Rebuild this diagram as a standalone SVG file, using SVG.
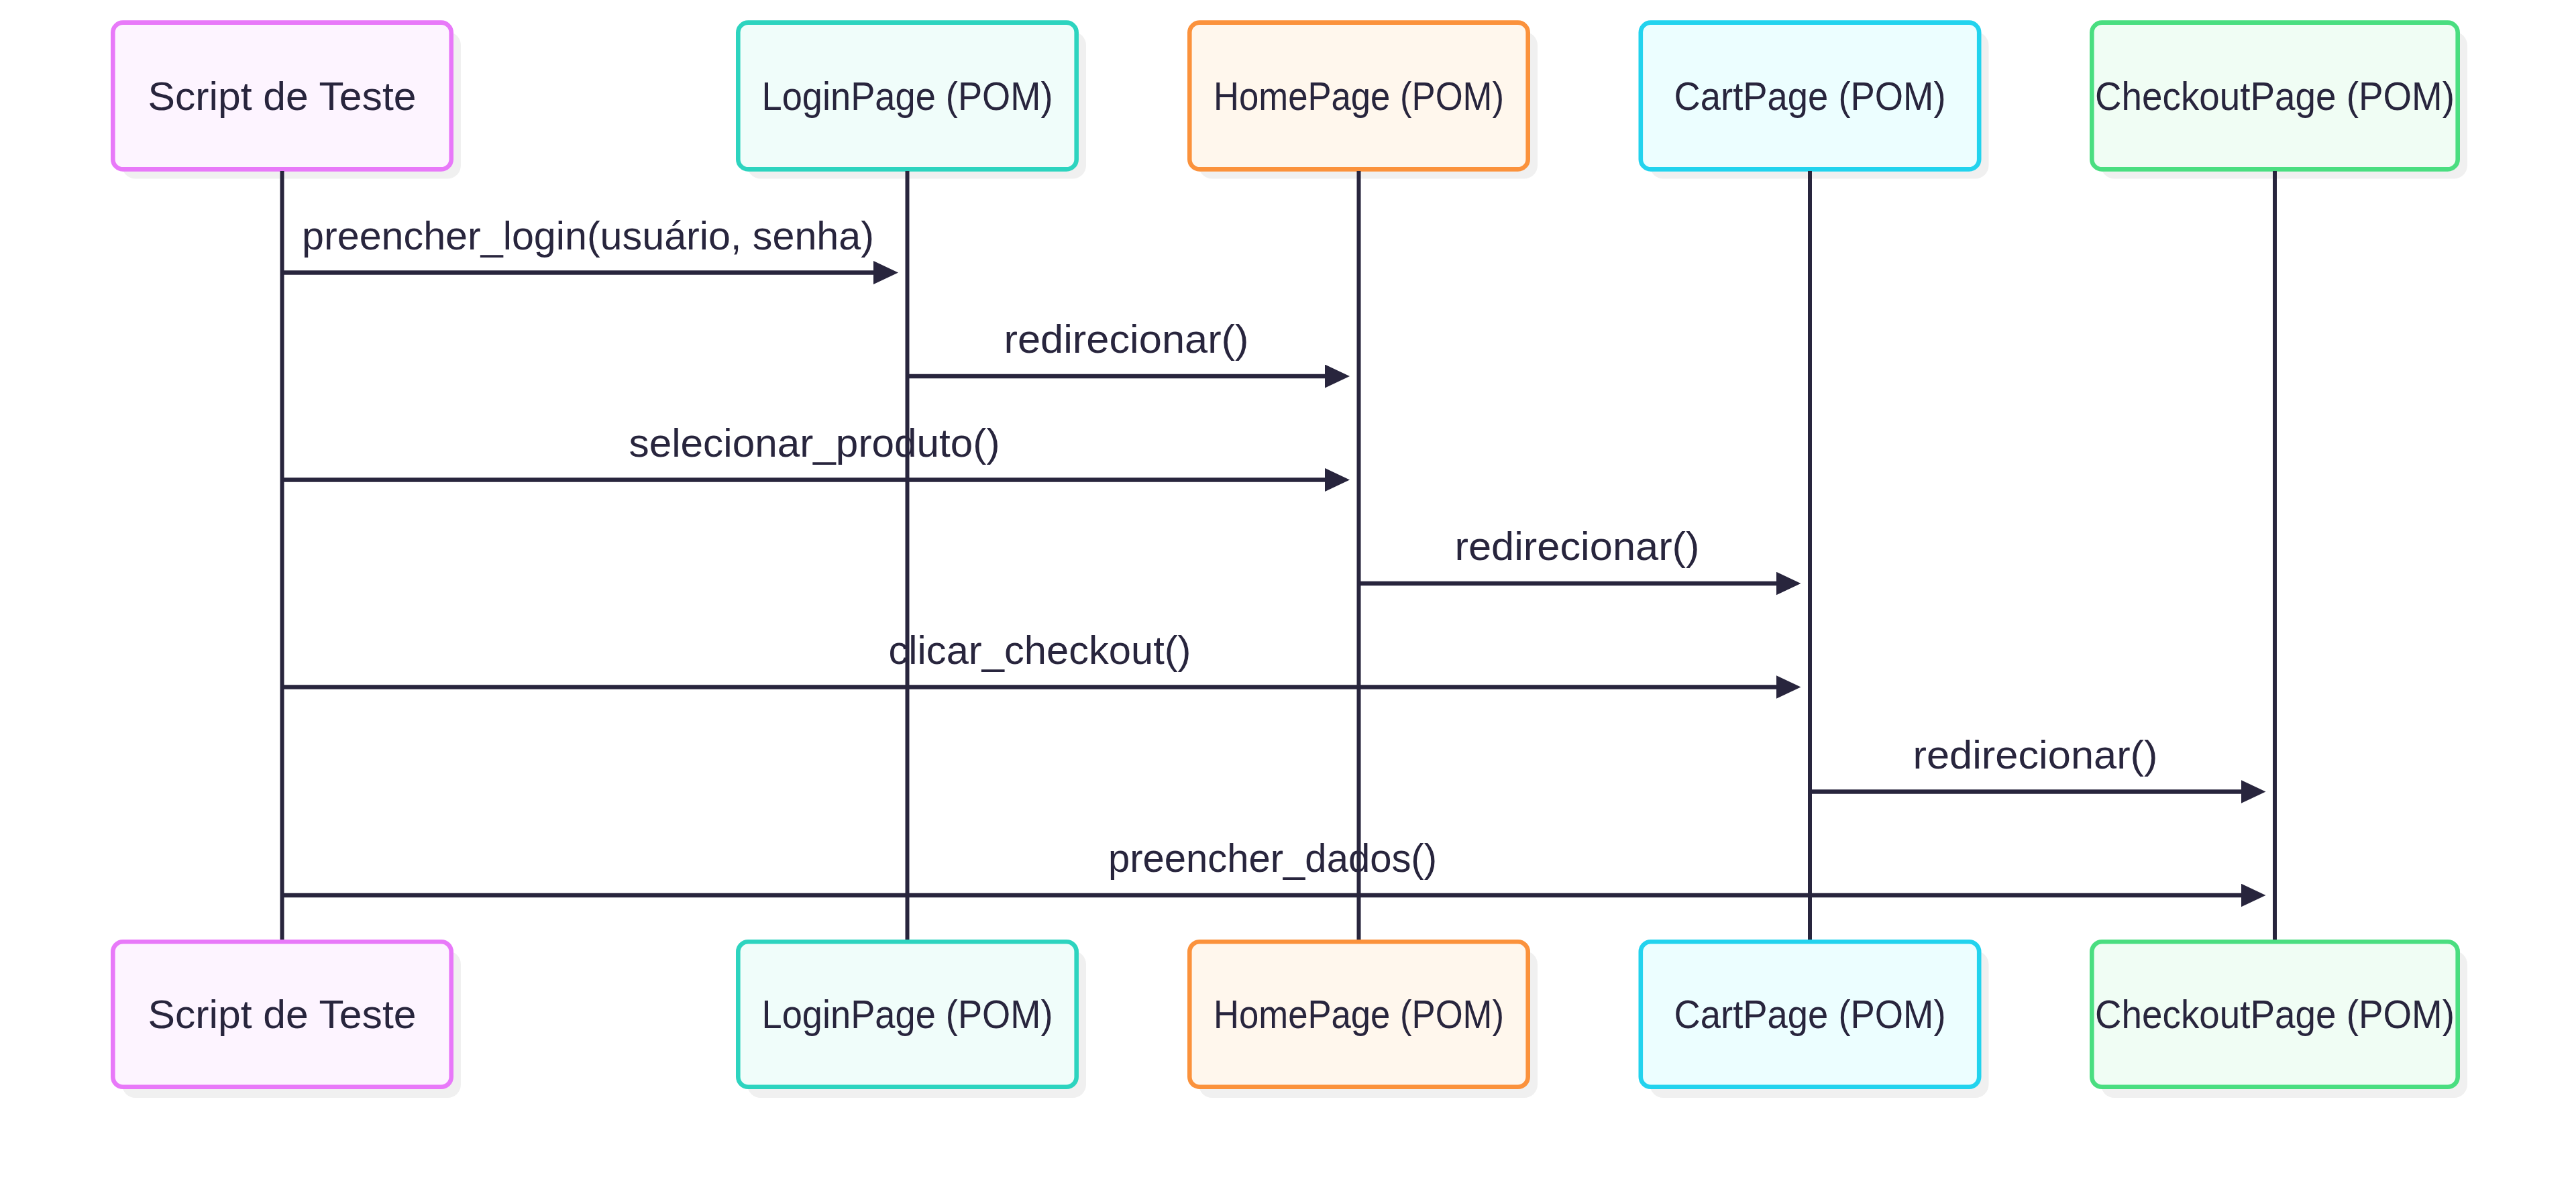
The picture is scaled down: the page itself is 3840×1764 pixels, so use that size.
<svg xmlns="http://www.w3.org/2000/svg" width="3840" height="1764" viewBox="0 0 3840 1764">
<style>
.bg{fill:#ffffff}
.shadow{fill:#f0f0f0}
.box{stroke-width:6.6}
.lbl{font-family:"Liberation Sans","Noto Sans",Arial,sans-serif;font-size:58.5px;fill:#28253d;text-anchor:middle}
.life{stroke:#28253d;stroke-width:6;fill:none}
.msg{stroke:#28253d;stroke-width:6.5;fill:none;marker-end:url(#arr)}
.pink{fill:#fdf4ff;stroke:#e879f9}
.teal{fill:#f0fdfa;stroke:#2dd4bf}
.orange{fill:#fff7ed;stroke:#fb923c}
.cyan{fill:#ecfeff;stroke:#22d3ee}
.green{fill:#f0fdf4;stroke:#4ade80}
</style>
<defs>
<marker id="arr" markerUnits="userSpaceOnUse" markerWidth="40" markerHeight="36" refX="2" refY="17.5" orient="auto">
<path d="M0,0 L37,17.5 L0,35 Z" fill="#28253d"/>
</marker>
</defs>
<rect class="bg" x="0" y="0" width="3840" height="1764"/>

<g id="script-top">
<rect class="shadow" x="182" y="47.5" width="505" height="219" rx="20"/>
<rect class="box pink" x="168.3" y="33.6" width="504.4" height="218.8" rx="15"/>
<text class="lbl" x="420.5" y="164" textLength="400" lengthAdjust="spacingAndGlyphs">Script de Teste</text>
</g>
<g id="login-top">
<rect class="shadow" x="1114" y="47.5" width="505" height="219" rx="20"/>
<rect class="box teal" x="1100.3" y="33.6" width="504.4" height="218.8" rx="15"/>
<text class="lbl" x="1352.5" y="164" textLength="434" lengthAdjust="spacingAndGlyphs">LoginPage (POM)</text>
</g>
<g id="home-top">
<rect class="shadow" x="1787" y="47.5" width="505" height="219" rx="20"/>
<rect class="box orange" x="1773.3" y="33.6" width="504.4" height="218.8" rx="15"/>
<text class="lbl" x="2025.5" y="164" textLength="433" lengthAdjust="spacingAndGlyphs">HomePage (POM)</text>
</g>
<g id="cart-top">
<rect class="shadow" x="2459.5" y="47.5" width="505" height="219" rx="20"/>
<rect class="box cyan" x="2445.8" y="33.6" width="504.4" height="218.8" rx="15"/>
<text class="lbl" x="2698" y="164" textLength="405" lengthAdjust="spacingAndGlyphs">CartPage (POM)</text>
</g>
<g id="checkout-top">
<rect class="shadow" x="3132" y="47.5" width="546" height="219" rx="20"/>
<rect class="box green" x="3118.3" y="33.6" width="545.4" height="218.8" rx="15"/>
<text class="lbl" x="3391" y="164" textLength="536" lengthAdjust="spacingAndGlyphs">CheckoutPage (POM)</text>
</g>

<g id="script-bottom">
<rect class="shadow" x="182" y="1418" width="505" height="219" rx="20"/>
<rect class="box pink" x="168.3" y="1404.3" width="504.4" height="216.4" rx="15"/>
<text class="lbl" x="420.5" y="1533" textLength="400" lengthAdjust="spacingAndGlyphs">Script de Teste</text>
</g>
<g id="login-bottom">
<rect class="shadow" x="1114" y="1418" width="505" height="219" rx="20"/>
<rect class="box teal" x="1100.3" y="1404.3" width="504.4" height="216.4" rx="15"/>
<text class="lbl" x="1352.5" y="1533" textLength="434" lengthAdjust="spacingAndGlyphs">LoginPage (POM)</text>
</g>
<g id="home-bottom">
<rect class="shadow" x="1787" y="1418" width="505" height="219" rx="20"/>
<rect class="box orange" x="1773.3" y="1404.3" width="504.4" height="216.4" rx="15"/>
<text class="lbl" x="2025.5" y="1533" textLength="433" lengthAdjust="spacingAndGlyphs">HomePage (POM)</text>
</g>
<g id="cart-bottom">
<rect class="shadow" x="2459.5" y="1418" width="505" height="219" rx="20"/>
<rect class="box cyan" x="2445.8" y="1404.3" width="504.4" height="216.4" rx="15"/>
<text class="lbl" x="2698" y="1533" textLength="405" lengthAdjust="spacingAndGlyphs">CartPage (POM)</text>
</g>
<g id="checkout-bottom">
<rect class="shadow" x="3132" y="1418" width="546" height="219" rx="20"/>
<rect class="box green" x="3118.3" y="1404.3" width="545.4" height="216.4" rx="15"/>
<text class="lbl" x="3391" y="1533" textLength="536" lengthAdjust="spacingAndGlyphs">CheckoutPage (POM)</text>
</g>

<g id="connectors">
<line class="msg" x1="420.5" y1="406.5" x2="1304" y2="406.5"/>
<text class="lbl" x="876.5" y="371.5" textLength="853" lengthAdjust="spacingAndGlyphs">preencher_login(usuário, senha)</text>
<line class="msg" x1="1352.5" y1="561" x2="1977" y2="561"/>
<text class="lbl" x="1679" y="526" textLength="365" lengthAdjust="spacingAndGlyphs">redirecionar()</text>
<line class="msg" x1="420.5" y1="715.5" x2="1977" y2="715.5"/>
<text class="lbl" x="1214" y="680.5" textLength="553" lengthAdjust="spacingAndGlyphs">selecionar_produto()</text>
<line class="msg" x1="2025.5" y1="870" x2="2649.5" y2="870"/>
<text class="lbl" x="2351" y="835" textLength="365" lengthAdjust="spacingAndGlyphs">redirecionar()</text>
<line class="msg" x1="420.5" y1="1024.5" x2="2649.5" y2="1024.5"/>
<text class="lbl" x="1550" y="989.5" textLength="451" lengthAdjust="spacingAndGlyphs">clicar_checkout()</text>
<line class="msg" x1="2698" y1="1180.5" x2="3342.5" y2="1180.5"/>
<text class="lbl" x="3034" y="1145.5" textLength="365" lengthAdjust="spacingAndGlyphs">redirecionar()</text>
<line class="msg" x1="420.5" y1="1335" x2="3342.5" y2="1335"/>
<text class="lbl" x="1897" y="1300" textLength="490" lengthAdjust="spacingAndGlyphs">preencher_dados()</text>
<line class="life" x1="420.5" y1="255" x2="420.5" y2="1401"/>
<line class="life" x1="1352.5" y1="255" x2="1352.5" y2="1401"/>
<line class="life" x1="2025.5" y1="255" x2="2025.5" y2="1401"/>
<line class="life" x1="2698" y1="255" x2="2698" y2="1401"/>
<line class="life" x1="3391" y1="255" x2="3391" y2="1401"/>
</g>
</svg>
